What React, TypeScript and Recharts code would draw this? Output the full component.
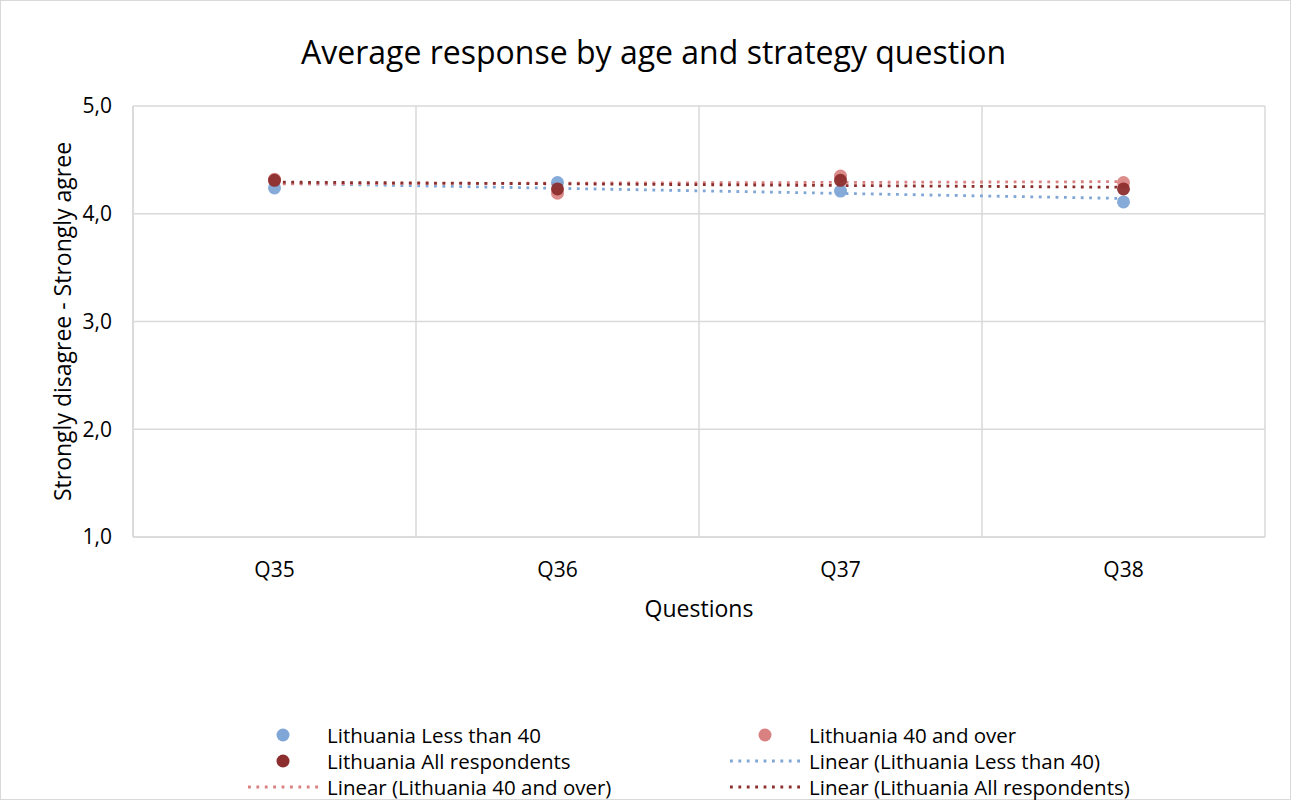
import React from 'react';
import { ComposedChart, Line, XAxis, YAxis, CartesianGrid, Label } from 'recharts';

const categories = ['Q35', 'Q36', 'Q37', 'Q38'];
const lessThan40 = [4.24, 4.29, 4.21, 4.11];
const fortyAndOver = [4.32, 4.19, 4.35, 4.29];
const allRespondents = [4.31, 4.23, 4.31, 4.23];
const yTicks = [1, 2, 3, 4, 5];

const seriesNames = {
  less: 'Lithuania Less than 40',
  over: 'Lithuania 40 and over',
  all: 'Lithuania All respondents',
};

const COLORS = {
  less: '#7FA6D7',
  over: '#D98080',
  all: '#8C2E2E',
};

const FONT = '"Open Sans", Lato, sans-serif';

// Linear trendline (least squares over category index), as in the spreadsheet trendline
function linearTrend(values: number[]): number[] {
  const n = values.length;
  const xs = values.map((_, i) => i + 1);
  const mx = xs.reduce((a, b) => a + b, 0) / n;
  const my = values.reduce((a, b) => a + b, 0) / n;
  let num = 0;
  let den = 0;
  xs.forEach((x, i) => {
    num += (x - mx) * (values[i] - my);
    den += (x - mx) * (x - mx);
  });
  const slope = num / den;
  return xs.map((x) => my + slope * (x - mx));
}

const trendLess = linearTrend(lessThan40);
const trendOver = linearTrend(fortyAndOver);
const trendAll = linearTrend(allRespondents);

const data = categories.map((q, i) => ({
  q,
  less: lessThan40[i],
  over: fortyAndOver[i],
  all: allRespondents[i],
  tLess: trendLess[i],
  tOver: trendOver[i],
  tAll: trendAll[i],
}));

const DOT_DASH = '2.8 5.6';

const legendItems = [
  { label: seriesNames.less, kind: 'dot', color: COLORS.less, col: 0, row: 0 },
  { label: seriesNames.over, kind: 'dot', color: COLORS.over, col: 1, row: 0 },
  { label: seriesNames.all, kind: 'dot', color: COLORS.all, col: 0, row: 1 },
  { label: `Linear (${seriesNames.less})`, kind: 'line', color: COLORS.less, col: 1, row: 1 },
  { label: `Linear (${seriesNames.over})`, kind: 'line', color: COLORS.over, col: 0, row: 2 },
  { label: `Linear (${seriesNames.all})`, kind: 'line', color: COLORS.all, col: 1, row: 2 },
];

function LegendIcon({ kind, color }: { kind: string; color: string }) {
  return (
    <svg width={72} height={16} style={{ display: 'block' }}>
      {kind === 'dot' ? (
        <circle cx={35} cy={8} r={6.5} fill={color} />
      ) : (
        <line x1={0} y1={8} x2={72} y2={8} stroke={color} strokeWidth={2.8} strokeDasharray={DOT_DASH} />
      )}
    </svg>
  );
}

const PLOT_W = 1132;

export default function App() {
  const W = 1291;
  const H = 800;
  return (
    <div
      style={{
        position: 'absolute',
        left: 0,
        top: 0,
        width: W,
        height: H,
        background: '#fff',
        fontFamily: FONT,
        overflow: 'hidden',
      }}
    >
      <div
        style={{
          position: 'absolute',
          left: 0,
          top: 0,
          width: W - 2,
          height: H - 2,
          border: '1px solid #d9d9d9',
        }}
      />
      <div
        style={{
          position: 'absolute',
          left: 8,
          width: W,
          top: 32,
          textAlign: 'center',
          fontSize: 32,
          color: '#000',
          lineHeight: '40px',
        }}
      >
        Average response by age and strategy question
      </div>
      <ComposedChart
        width={W}
        height={H}
        data={data}
        margin={{ top: 106, right: 26, bottom: 203, left: 30 }}
        style={{ position: 'absolute', left: 0, top: 0 }}
      >
        <CartesianGrid
          stroke="#d9d9d9"
          strokeWidth={1.5}
          verticalCoordinatesGenerator={({ offset }: any) =>
            [0, 1, 2, 3, 4].map((i) => offset.left + (offset.width * i) / 4)
          }
        />
        <XAxis
          dataKey="q"
          height={60}
          tickLine={false}
          tickSize={0}
          tickMargin={25}
          padding={{ left: PLOT_W / 8, right: PLOT_W / 8 }}
          axisLine={{ stroke: '#d9d9d9', strokeWidth: 1.5 }}
          tick={{ fill: '#000', fontSize: 21, fontFamily: FONT }}
        >
          <Label
            content={({ viewBox }: any) => (
              <text
                x={viewBox.x + viewBox.width / 2}
                y={viewBox.y + 80}
                textAnchor="middle"
                fill="#000"
                fontSize={23}
                fontFamily={FONT}
              >
                Questions
              </text>
            )}
          />
        </XAxis>
        <YAxis
          domain={[1, 5]}
          ticks={yTicks}
          width={103}
          tickLine={false}
          tickSize={0}
          tickMargin={21}
          axisLine={{ stroke: '#d9d9d9', strokeWidth: 1.5 }}
          tickFormatter={(v: number) => v.toFixed(1).replace('.', ',')}
          tick={{ fill: '#000', fontSize: 21, fontFamily: FONT }}
        >
          <Label
            content={({ viewBox }: any) => {
              const cx = 71;
              const cy = viewBox.y + viewBox.height / 2;
              return (
                <text
                  x={cx}
                  y={cy}
                  transform={`rotate(-90 ${cx} ${cy})`}
                  textAnchor="middle"
                  fill="#000"
                  fontSize={23}
                  fontFamily={FONT}
                >
                  Strongly disagree - Strongly agree
                </text>
              );
            }}
          />
        </YAxis>
        <Line
          dataKey="less"
          stroke="none"
          isAnimationActive={false}
          dot={{ r: 6.5, fill: COLORS.less, stroke: 'none', fillOpacity: 0.95 }}
          activeDot={false}
        />
        <Line
          dataKey="over"
          stroke="none"
          isAnimationActive={false}
          dot={{ r: 6.5, fill: COLORS.over, stroke: 'none', fillOpacity: 0.9 }}
          activeDot={false}
        />
        <Line
          dataKey="all"
          stroke="none"
          isAnimationActive={false}
          dot={{ r: 6.5, fill: COLORS.all, stroke: 'none', fillOpacity: 0.95 }}
          activeDot={false}
        />
        <Line
          dataKey="tLess"
          stroke={COLORS.less}
          strokeWidth={2.8}
          strokeDasharray={DOT_DASH}
          dot={false}
          activeDot={false}
          isAnimationActive={false}
        />
        <Line
          dataKey="tOver"
          stroke={COLORS.over}
          strokeWidth={2.8}
          strokeDasharray={DOT_DASH}
          dot={false}
          activeDot={false}
          isAnimationActive={false}
        />
        <Line
          dataKey="tAll"
          stroke={COLORS.all}
          strokeWidth={2.8}
          strokeDasharray={DOT_DASH}
          dot={false}
          activeDot={false}
          isAnimationActive={false}
        />
      </ComposedChart>
      {legendItems.map((it) => (
        <div
          key={it.label}
          style={{
            position: 'absolute',
            left: it.col === 0 ? 248 : 730,
            top: 724 + it.row * 26,
            display: 'flex',
            alignItems: 'center',
            height: 22,
            fontSize: 20.5,
            lineHeight: '22px',
            color: '#000',
            whiteSpace: 'nowrap',
          }}
        >
          <LegendIcon kind={it.kind} color={it.color} />
          <span style={{ marginLeft: 7, lineHeight: '22px' }}>{it.label}</span>
        </div>
      ))}
    </div>
  );
}
